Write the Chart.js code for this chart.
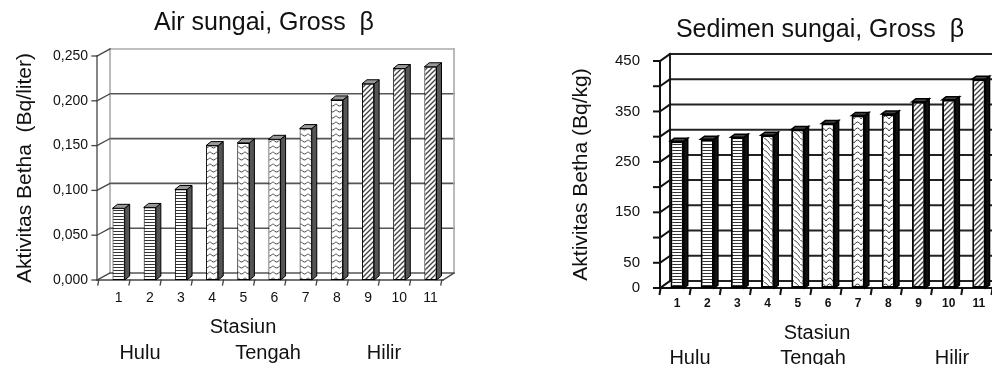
<!DOCTYPE html>
<html>
<head>
<meta charset="utf-8">
<script src="https://cdn.jsdelivr.net/npm/chart.js@4.4.1/dist/chart.umd.min.js"></script>
<style>
  html, body { margin: 0; padding: 0; background: #fff; overflow: hidden; width: 992px; height: 365px; }
  #stage { position: relative; width: 992px; height: 365px; overflow: hidden;
           font-family: "Liberation Sans", Arial, sans-serif; color: #111; }
  #wrapAir { position: absolute; left: 0; top: 0; width: 528px; height: 365px; }
  #wrapSed { position: absolute; left: 560px; top: 0; width: 520px; height: 365px; }
  .lbl { position: absolute; font-size: 20px; line-height: 20px; white-space: nowrap; transform: translateX(-50%); }
</style>
</head>
<body>
<div id="stage">
  <div id="wrapAir"><canvas id="air" width="528" height="365"></canvas></div>
  <div id="wrapSed"><canvas id="sed" width="520" height="365"></canvas></div>

  <div class="lbl" style="left:243px;top:316px">Stasiun</div>
  <div class="lbl" style="left:140px;top:342px">Hulu</div>
  <div class="lbl" style="left:268px;top:342px">Tengah</div>
  <div class="lbl" style="left:384px;top:342px">Hilir</div>

  <div class="lbl" style="left:817px;top:322px">Stasiun</div>
  <div class="lbl" style="left:690px;top:347px">Hulu</div>
  <div class="lbl" style="left:813px;top:347px">Tengah</div>
  <div class="lbl" style="left:952px;top:347px">Hilir</div>
</div>

<script>
// Sampling stations along the river (upstream -> downstream)
const stations = ['1', '2', '3', '4', '5', '6', '7', '8', '9', '10', '11'];

// Gross beta activity in river water (Bq/liter)
const airBeta = [0.080, 0.081, 0.101, 0.150, 0.153, 0.157, 0.169, 0.201, 0.219, 0.236, 0.238];

// Gross beta activity in river sediment (Bq/kg)
const sedimenBeta = [291, 295, 299, 303, 314, 326, 342, 345, 369, 373, 414];

// Fill style per station (by river section)
const airFill    = ['hlines', 'hlines', 'hlines', 'smiles', 'smiles', 'smiles', 'smiles', 'smiles', 'diag', 'diag', 'diag'];
const sedimenFill = ['hlines', 'hlines', 'hlines', 'backwave', 'backwave', 'arches', 'arches', 'arches', 'diag', 'diag', 'diag'];

const FONT = '"Liberation Sans", Arial, sans-serif';

function makePattern(kind) {
  const c = document.createElement('canvas');
  const g = c.getContext('2d');
  const size = { hlines: [4, 3], smiles: [7, 6], arches: [7, 6], diag: [5, 5], backwave: [6, 6] }[kind];
  c.width = size[0]; c.height = size[1];
  g.fillStyle = '#fff';
  g.fillRect(0, 0, c.width, c.height);
  g.strokeStyle = '#444';
  g.fillStyle = '#333';
  g.lineWidth = 1;
  g.beginPath();
  if (kind === 'hlines') {
    g.fillRect(0, 0, c.width, 1);
  } else if (kind === 'smiles') {
    g.moveTo(0, 1.5); g.quadraticCurveTo(3.5, 6.5, 7, 1.5);
  } else if (kind === 'arches') {
    g.moveTo(0, 5); g.quadraticCurveTo(3.5, -1, 7, 5);
  } else if (kind === 'diag') {
    g.lineWidth = 1.4;
    g.moveTo(-1, 6); g.lineTo(6, -1);
    g.moveTo(-2, 2); g.lineTo(2, -2);
    g.moveTo(3, 7); g.lineTo(7, 3);
  } else if (kind === 'backwave') {
    g.moveTo(-1, -1); g.quadraticCurveTo(4, 2, 7, 7);
  }
  g.stroke();
  return g.createPattern(c, 'repeat');
}

// Pseudo-3D frame: back wall grid, side wall, floor and bar depth faces
const frame3d = {
  id: 'frame3d',
  beforeDatasetsDraw(chart, _args, o) {
    const { ctx, chartArea: a, scales: { x, y } } = chart;
    const fx = a.left + o.frontDx;
    const bx = a.left + o.backDx;
    const brx = a.right + o.backDx + 1;
    const frx = a.right + o.frontRight;
    const dy = o.backDy;
    const topY = y.getPixelForValue(y.max);
    const seg = (x1, y1, x2, y2) => { ctx.beginPath(); ctx.moveTo(x1, y1); ctx.lineTo(x2, y2); ctx.stroke(); };
    ctx.save();
    ctx.lineCap = 'square';
    // back wall grid lines (top edge drawn lighter)
    ctx.lineWidth = o.gridWidth;
    y.ticks.forEach(t => {
      const py = y.getPixelForValue(t.value);
      ctx.strokeStyle = t.value === y.max ? o.wallColor : o.gridColor;
      seg(bx, py + dy, brx, py + dy);
    });
    // back wall edges
    ctx.strokeStyle = o.wallColor; ctx.lineWidth = o.wallWidth;
    seg(bx, topY + dy, bx, a.bottom + dy);
    seg(brx, topY + dy, brx, a.bottom + dy);
    // side wall slants, tick marks and front axis
    ctx.strokeStyle = o.axisColor; ctx.lineWidth = o.axisWidth;
    y.ticks.forEach(t => {
      const py = y.getPixelForValue(t.value);
      seg(fx - o.tick, py, fx, py);
      seg(fx, py, bx, py + dy);
    });
    seg(fx, topY, fx, a.bottom);
    // floor
    seg(fx, a.bottom, frx, a.bottom);
    seg(frx, a.bottom, brx, a.bottom + dy);
    const step = x.getPixelForValue(1) - x.getPixelForValue(0);
    for (let i = 0; i <= x.ticks.length; i++) {
      const px = x.getPixelForValue(0) - step / 2 + i * step + o.frontDx * 0.7;
      seg(px, a.bottom, px - 1, a.bottom + o.tick);
    }
    ctx.restore();
  },
  afterDatasetsDraw(chart, _args, o) {
    const { ctx } = chart;
    const poly = (pts, fill) => {
      ctx.beginPath();
      pts.forEach((p, i) => i ? ctx.lineTo(p[0], p[1]) : ctx.moveTo(p[0], p[1]));
      ctx.closePath();
      ctx.fillStyle = fill; ctx.fill();
      ctx.stroke();
    };
    ctx.save();
    ctx.strokeStyle = '#000'; ctx.lineWidth = o.barEdge; ctx.lineJoin = 'miter';
    chart.getDatasetMeta(0).data.forEach(bar => {
      const { x, y, base, width } = bar.getProps(['x', 'y', 'base', 'width'], true);
      const l = x - width / 2, r = x + width / 2;
      poly([[r, y], [r + o.depthX, y + o.depthY], [r + o.depthX, base + o.depthY], [r, base]], o.sideColor);
      poly([[l, y], [l + o.depthX, y + o.depthY], [r + o.depthX, y + o.depthY], [r, y]], o.topColor);
    });
    ctx.restore();
  }
};

function buildChart(id, cfg) {
  return new Chart(document.getElementById(id), {
    type: 'bar',
    data: {
      labels: stations,
      datasets: [{
        data: cfg.values,
        backgroundColor: cfg.fills.map(makePattern),
        borderColor: '#000',
        borderWidth: cfg.barBorder,
        borderSkipped: false,
        categoryPercentage: 1,
        barPercentage: cfg.barPct
      }]
    },
    options: {
      responsive: false,
      animation: false,
      events: [],
      layout: { padding: 0 },
      plugins: {
        legend: { display: false },
        tooltip: { enabled: false },
        title: {
          display: true,
          text: cfg.title,
          color: '#111',
          font: { family: FONT, size: 25, weight: 'normal', lineHeight: 1.2 },
          padding: cfg.titlePad
        },
        frame3d: cfg.frame
      },
      scales: {
        x: {
          grid: { display: false, drawTicks: false },
          border: { display: false },
          ticks: { color: '#111', font: cfg.xFont, padding: cfg.xPad, autoSkip: false, maxRotation: 0 },
          afterFit: s => { s.height = cfg.xHeight; }
        },
        y: {
          min: 0,
          max: cfg.yMax,
          grid: { display: false, drawTicks: false },
          border: { display: false },
          ticks: { stepSize: cfg.yStep, color: '#111', font: { family: FONT, size: cfg.yFontSize }, padding: cfg.yPad,
                   autoSkip: false, callback: cfg.yFormat },
          title: {
            display: true, text: cfg.yTitle, color: '#111',
            font: { family: FONT, size: 21, lineHeight: 1.2 }, padding: { top: cfg.yTitleTop, bottom: 0 }
          },
          afterFit: s => { s.width = cfg.yWidth; }
        },
        // empty margin on the right side of the plot
        yRight: {
          position: 'right',
          grid: { display: false, drawTicks: false },
          border: { display: false },
          ticks: { display: false },
          afterFit: s => { s.width = cfg.rightMargin; }
        }
      }
    },
    plugins: [frame3d]
  });
}

buildChart('air', {
  values: airBeta,
  fills: airFill,
  title: 'Air sungai, Gross  β',
  titlePad: { top: 8, bottom: 18 },
  yTitle: 'Aktivitas Betha  (Bq/liter)',
  yTitleTop: 13,
  yMax: 0.25, yStep: 0.05, yFontSize: 14, yPad: 15, yWidth: 103,
  yFormat: v => v.toFixed(3).replace('.', ','),
  xFont: { family: FONT, size: 14 }, xPad: 10, xHeight: 85,
  rightMargin: 82,
  barPct: 0.39, barBorder: 1,
  frame: { frontDx: -6, backDx: 7, backDy: -7, frontRight: -3, tick: 5,
           gridColor: '#555', gridWidth: 1.6, wallColor: '#aaa', wallWidth: 1.6,
           axisColor: '#444', axisWidth: 1.3,
           depthX: 5, depthY: -4, sideColor: '#555', topColor: '#999', barEdge: 1 }
});

buildChart('sed', {
  values: sedimenBeta,
  fills: sedimenFill,
  title: 'Sedimen sungai, Gross  β',
  titlePad: { top: 15, bottom: 16 },
  yTitle: 'Aktivitas Betha (Bq/kg)',
  yTitleTop: 9,
  yMax: 450, yStep: 50, yFontSize: 15, yPad: 22, yWidth: 102,
  yFormat: v => (v === 0 || v % 100 === 50) ? String(v) : '',
  xFont: { family: FONT, size: 12, weight: 'bold' }, xPad: 8, xHeight: 77,
  rightMargin: 86,
  barPct: 0.44, barBorder: 2,
  frame: { frontDx: -2, backDx: 8, backDy: -7, frontRight: -2, tick: 6,
           gridColor: '#222', gridWidth: 2, wallColor: '#222', wallWidth: 2,
           axisColor: '#111', axisWidth: 2,
           depthX: 4, depthY: -3, sideColor: '#111', topColor: '#444', barEdge: 1.5 }
});
</script>
</body>
</html>
